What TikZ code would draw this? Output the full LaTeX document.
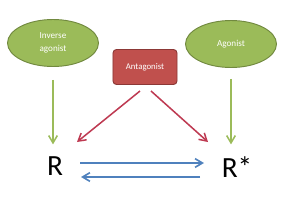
\documentclass[tikz,border=0pt]{standalone}
\usepackage{fontspec}
\setmainfont{Carlito}
\usetikzlibrary{arrows.meta,shapes.geometric,calc}
\definecolor{olive}{HTML}{9BBB59}
\definecolor{oliveline}{HTML}{71893F}
\definecolor{brick}{HTML}{C0504D}
\definecolor{brickline}{HTML}{8C3836}
\definecolor{arrred}{HTML}{BE3A52}
\definecolor{steel}{HTML}{4F81BD}

\begin{document}
\begin{tikzpicture}[
    x=0.03cm, y=-0.03cm,
    >={Straight Barb[length=2.2mm,width=2.6mm]},
    ligand/.style={ellipse, draw=oliveline, fill=olive, line width=0.8pt,
                   minimum width=2.73cm, minimum height=1.41cm,
                   text=white, font=\fontsize{7.8}{10.5}\selectfont, align=center},
    blocker/.style={draw=brickline, fill=brick, line width=0.8pt, rounded corners=3pt,
                    minimum width=1.92cm, minimum height=1.05cm,
                    text=white, font=\fontsize{7.5}{9}\selectfont},
    state/.style={inner sep=0pt, font=\fontsize{25}{28}\selectfont},
    bind/.style={olive, line width=1.3pt, ->},
    block/.style={arrred, line width=1.3pt, ->},
    equil/.style={steel, line width=1.4pt, ->},
]
\useasboundingbox (0,0) rectangle (300,213);

% Ligands and receptor states
\node[ligand]  (inv) at (53,43)  {Inverse\\agonist};
\node[ligand]  (ago) at (231,44) {Agonist};
\node[blocker] (ant) at (145,67) {Antagonist};
\node[state]   (R)   at (55,166) {R};
\node[state]   (Rs)  at (237,167) {R*};

% Arrow end points
\coordinate (antL) at (140,91);
\coordinate (antR) at (151,91);
\coordinate (tipL) at (77,142);
\coordinate (tipR) at (208,142);
\coordinate (fwdA) at (80,163);
\coordinate (fwdB) at (204,163);
\coordinate (bckA) at (200,177);
\coordinate (bckB) at (81,177);

% Binding arrows
\draw[bind] ($(inv.south)+(0,13)$) -- ($(inv.south |- R.north)+(0,-12)$);
\draw[bind] ($(ago.south)+(0,11)$) -- ($(ago.south |- Rs.north)+(0,-12)$);
\draw[block] (antL) -- (tipL);
\draw[block] (antR) -- (tipR);

% Equilibrium
\draw[equil] (fwdA) -- (fwdB);
\draw[equil] (bckA) -- (bckB);

\end{tikzpicture}
\end{document}
